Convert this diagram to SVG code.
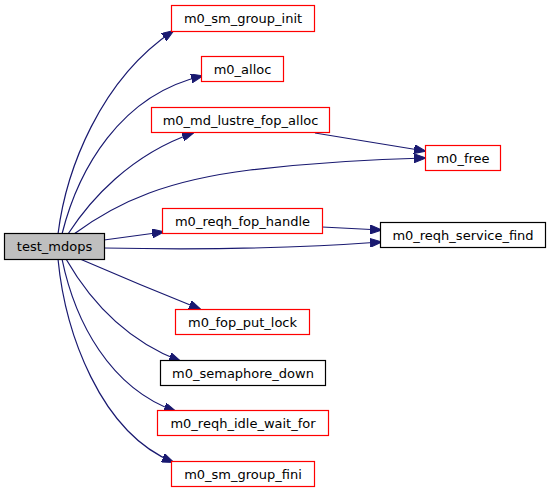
<svg xmlns="http://www.w3.org/2000/svg" width="551" height="493" viewBox="0 0 551 493">
<style>
.n rect{fill:#ffffff;stroke-width:1.2}
.r rect{stroke:#ff0000}
.b rect{stroke:#000000}
.root rect{fill:#bfbfbf;stroke:#000000}
text{font-family:"DejaVu Sans",sans-serif;font-size:13px;fill:#000000;text-anchor:middle}
.e path{fill:none;stroke:#191970;stroke-width:1.2;marker-end:url(#a)}
</style>
<defs>
<marker id="a" viewBox="0 0 12 9" refX="11" refY="4.5" markerWidth="12" markerHeight="9" orient="auto" markerUnits="userSpaceOnUse">
<path d="M0,0 L12,4.5 L0,9 z" fill="#191970" stroke="#191970" stroke-width="1"/>
</marker>
</defs>
<g id="edges" class="e">
<path d="M58,234 C66,170 100,80 173,31"/>
<path d="M62,234 C78,170 120,95 202,76"/>
<path d="M68,234 C90,200 130,155 193,133"/>
<path d="M74,234 C120,200 170,180 250,170 C320,162 380,159 425,158"/>
<path d="M315,133 C350,139 390,145 425,151"/>
<path d="M104,240 L163,232"/>
<path d="M322,227 L381,230"/>
<path d="M104,248 C200,250 300,248 381,242"/>
<path d="M80,259 C110,272 160,293 200,309"/>
<path d="M66,259 C85,292 120,338 180,361"/>
<path d="M62,259 C75,322 110,388 175,411"/>
<path d="M58,259 C65,332 100,432 173,462"/>
</g>
<g id="test_mdops" class="n root"><rect x="4.5" y="233.5" width="100" height="26"/><text x="54.5" y="251">test_mdops</text></g>
<g id="m0_sm_group_init" class="n r"><rect x="171.5" y="5.5" width="143" height="26"/><text x="243" y="23">m0_sm_group_init</text></g>
<g id="m0_alloc" class="n r"><rect x="201.5" y="56.5" width="82" height="25"/><text x="242.5" y="73.5">m0_alloc</text></g>
<g id="m0_md_lustre_fop_alloc" class="n r"><rect x="151.5" y="107.5" width="178" height="25"/><text x="240.5" y="124.5">m0_md_lustre_fop_alloc</text></g>
<g id="m0_free" class="n r"><rect x="425.5" y="145.5" width="75" height="25"/><text x="463" y="162.5">m0_free</text></g>
<g id="m0_reqh_fop_handle" class="n r"><rect x="162.5" y="208.5" width="160" height="25"/><text x="242.5" y="225.5">m0_reqh_fop_handle</text></g>
<g id="m0_reqh_service_find" class="n b"><rect x="380.5" y="222.5" width="165" height="25"/><text x="463" y="239.5">m0_reqh_service_find</text></g>
<g id="m0_fop_put_lock" class="n r"><rect x="175.5" y="309.5" width="134" height="25"/><text x="242.5" y="326.5">m0_fop_put_lock</text></g>
<g id="m0_semaphore_down" class="n b"><rect x="160.5" y="360.5" width="165" height="25"/><text x="243" y="377.5">m0_semaphore_down</text></g>
<g id="m0_reqh_idle_wait_for" class="n r"><rect x="157.5" y="410.5" width="171" height="25"/><text x="243" y="427.5">m0_reqh_idle_wait_for</text></g>
<g id="m0_sm_group_fini" class="n r"><rect x="171.5" y="461.5" width="143" height="25"/><text x="243" y="478.5">m0_sm_group_fini</text></g>
</svg>
